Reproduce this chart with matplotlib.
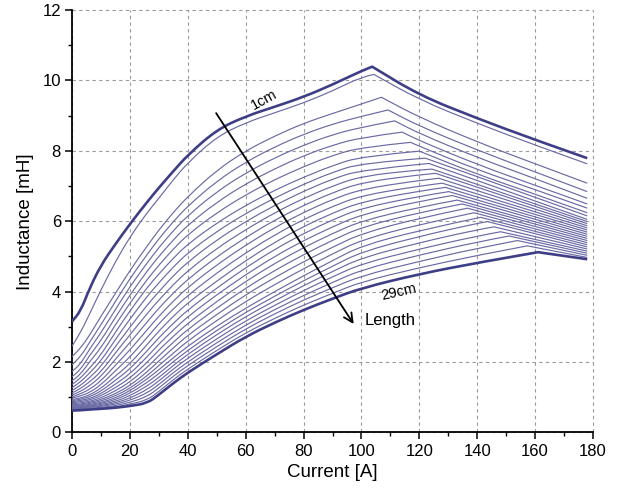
import matplotlib
matplotlib.use('Agg')
import matplotlib.pyplot as plt
from matplotlib.ticker import MultipleLocator
from matplotlib.path import Path
from matplotlib.patches import PathPatch

plt.rcParams['font.family'] = ['Liberation Sans', 'DejaVu Sans']

# Current grid (A) shared by the rising part of every curve
CURRENT_GRID = [0, 3, 6, 10, 15, 20, 26, 30, 35, 40, 50, 60, 70, 80, 90, 100]

# Inductance (mH) on CURRENT_GRID for air-gap lengths 1cm ... 29cm
L01 = [3.15, 3.45, 4.08, 4.75, 5.35, 5.92, 6.55, 6.95, 7.42, 7.88, 8.60, 8.98, 9.25, 9.53, 9.88, 10.27]
L02 = [2.45, 2.85, 3.35, 4.05, 4.85, 5.55, 6.25, 6.65, 7.18, 7.66, 8.40, 8.80, 9.08, 9.36, 9.70, 10.10]
L03 = [2.15, 2.40, 2.75, 3.30, 3.95, 4.60, 5.30, 5.75, 6.25, 6.70, 7.45, 8.00, 8.42, 8.78, 9.06, 9.33]
L04 = [1.92, 2.16, 2.55, 3.06, 3.72, 4.37, 5.06, 5.50, 5.99, 6.43, 7.14, 7.68, 8.11, 8.47, 8.76, 8.98]
L05 = [1.73, 1.95, 2.36, 2.83, 3.49, 4.14, 4.82, 5.25, 5.73, 6.16, 6.84, 7.37, 7.80, 8.16, 8.46, 8.67]
L06 = [1.58, 1.79, 2.18, 2.61, 3.27, 3.90, 4.59, 5.00, 5.47, 5.89, 6.54, 7.06, 7.49, 7.86, 8.16, 8.38]
L07 = [1.46, 1.66, 2.00, 2.40, 3.06, 3.67, 4.35, 4.75, 5.21, 5.62, 6.24, 6.75, 7.18, 7.55, 7.87, 8.10]
L08 = [1.36, 1.55, 1.82, 2.20, 2.85, 3.45, 4.12, 4.50, 4.95, 5.35, 5.95, 6.45, 6.88, 7.25, 7.58, 7.84]
L09 = [1.27, 1.44, 1.68, 2.03, 2.64, 3.22, 3.87, 4.25, 4.70, 5.10, 5.71, 6.22, 6.66, 7.05, 7.39, 7.65]
L10 = [1.19, 1.34, 1.55, 1.87, 2.44, 2.99, 3.62, 4.00, 4.45, 4.84, 5.47, 5.99, 6.45, 6.85, 7.20, 7.46]
L11 = [1.12, 1.25, 1.43, 1.72, 2.26, 2.77, 3.38, 3.76, 4.20, 4.59, 5.23, 5.76, 6.24, 6.65, 7.00, 7.28]
L12 = [1.06, 1.17, 1.32, 1.59, 2.08, 2.55, 3.14, 3.53, 3.96, 4.35, 4.99, 5.54, 6.03, 6.45, 6.81, 7.10]
L13 = [1.01, 1.10, 1.22, 1.46, 1.91, 2.34, 2.92, 3.30, 3.73, 4.12, 4.76, 5.32, 5.82, 6.25, 6.62, 6.91]
L14 = [0.97, 1.04, 1.13, 1.35, 1.75, 2.14, 2.70, 3.09, 3.51, 3.89, 4.53, 5.10, 5.61, 6.05, 6.42, 6.73]
L15 = [0.93, 0.98, 1.06, 1.25, 1.60, 1.95, 2.50, 2.88, 3.30, 3.68, 4.30, 4.88, 5.40, 5.85, 6.23, 6.55]
L16 = [0.90, 0.945, 1.01, 1.17, 1.48, 1.80, 2.32, 2.69, 3.10, 3.48, 4.10, 4.68, 5.20, 5.65, 6.04, 6.37]
L17 = [0.87, 0.91, 0.96, 1.10, 1.37, 1.66, 2.15, 2.51, 2.91, 3.29, 3.91, 4.48, 5.00, 5.45, 5.84, 6.19]
L18 = [0.84, 0.875, 0.92, 1.04, 1.27, 1.54, 1.99, 2.34, 2.73, 3.10, 3.72, 4.29, 4.80, 5.25, 5.65, 6.01]
L19 = [0.81, 0.84, 0.88, 0.98, 1.18, 1.43, 1.85, 2.18, 2.56, 2.93, 3.53, 4.10, 4.60, 5.05, 5.46, 5.83]
L20 = [0.78, 0.805, 0.85, 0.93, 1.10, 1.33, 1.72, 2.03, 2.40, 2.76, 3.35, 3.91, 4.40, 4.85, 5.26, 5.65]
L21 = [0.76, 0.78, 0.82, 0.89, 1.04, 1.25, 1.61, 1.90, 2.25, 2.60, 3.18, 3.72, 4.20, 4.65, 5.07, 5.47]
L22 = [0.74, 0.76, 0.79, 0.85, 0.98, 1.18, 1.52, 1.78, 2.12, 2.45, 3.02, 3.53, 4.00, 4.45, 4.88, 5.30]
L23 = [0.72, 0.735, 0.77, 0.82, 0.93, 1.11, 1.42, 1.67, 2.01, 2.33, 2.90, 3.41, 3.87, 4.31, 4.72, 5.13]
L24 = [0.70, 0.715, 0.75, 0.79, 0.88, 1.04, 1.32, 1.56, 1.90, 2.22, 2.78, 3.29, 3.74, 4.17, 4.57, 4.96]
L25 = [0.69, 0.70, 0.73, 0.76, 0.84, 0.97, 1.22, 1.46, 1.80, 2.11, 2.66, 3.17, 3.61, 4.03, 4.42, 4.79]
L26 = [0.67, 0.685, 0.71, 0.74, 0.80, 0.91, 1.12, 1.36, 1.70, 2.00, 2.55, 3.05, 3.49, 3.89, 4.26, 4.62]
L27 = [0.66, 0.675, 0.69, 0.71, 0.76, 0.85, 1.02, 1.26, 1.60, 1.90, 2.44, 2.94, 3.37, 3.76, 4.11, 4.45]
L28 = [0.64, 0.65, 0.67, 0.69, 0.73, 0.80, 0.92, 1.16, 1.50, 1.80, 2.33, 2.83, 3.24, 3.62, 3.95, 4.28]
L29 = [0.62, 0.63, 0.65, 0.67, 0.70, 0.75, 0.83, 1.07, 1.40, 1.70, 2.22, 2.72, 3.12, 3.48, 3.80, 4.10]

# (current, inductance) points beyond 100 A: peak and decline
T01 = [(103.7, 10.39), (120, 9.58), (140, 8.92), (160, 8.31), (178, 7.79)]
T02 = [(104.3, 10.17), (120, 9.45), (140, 8.78), (160, 8.16), (178, 7.63)]
T03 = [(106.9, 9.52), (120, 8.95), (140, 8.25), (160, 7.63), (178, 7.08)]
T04 = [(109.2, 9.16), (120, 8.70), (140, 8.02), (160, 7.40), (178, 6.84)]
T05 = [(111.5, 8.85), (120, 8.49), (140, 7.81), (160, 7.21), (178, 6.65)]
T06 = [(114.1, 8.53), (120, 8.29), (140, 7.61), (160, 7.02), (178, 6.49)]
T07 = [(117.0, 8.24), (120, 8.13), (140, 7.46), (160, 6.90), (178, 6.37)]
T08 = [(120.0, 7.99), (140, 7.33), (160, 6.77), (178, 6.24)]
T09 = [(122.1, 7.79), (178, 6.15)]
T10 = [(123.3, 7.64), (178, 6.05)]
T11 = [(120, 7.46), (124.4, 7.48), (178, 5.99)]
T12 = [(120, 7.32), (125.6, 7.36), (178, 5.93)]
T13 = [(120, 7.16), (126.7, 7.22), (178, 5.87)]
T14 = [(120, 7.00), (127.9, 7.08), (178, 5.81)]
T15 = [(120, 6.86), (129.0, 6.96), (178, 5.75)]
T16 = [(120, 6.71), (130.2, 6.84), (178, 5.69)]
T17 = [(120, 6.57), (131.4, 6.73), (178, 5.63)]
T18 = [(120, 6.40), (133.1, 6.60), (178, 5.57)]
T19 = [(120, 6.25), (134.8, 6.49), (178, 5.51)]
T20 = [(120, 6.09), (136.6, 6.37), (178, 5.45)]
T21 = [(120, 5.91), (138.9, 6.24), (178, 5.39)]
T22 = [(120, 5.74), (141.2, 6.11), (178, 5.33)]
T23 = [(120, 5.57), (140, 5.94), (143.5, 5.99), (178, 5.27)]
T24 = [(120, 5.39), (140, 5.76), (145.8, 5.84), (178, 5.21)]
T25 = [(120, 5.21), (140, 5.58), (148.1, 5.70), (178, 5.15)]
T26 = [(120, 5.04), (140, 5.41), (151.0, 5.58), (178, 5.09)]
T27 = [(120, 4.86), (140, 5.23), (153.9, 5.45), (178, 5.03)]
T28 = [(120, 4.68), (140, 5.03), (157.3, 5.30), (178, 4.97)]
T29 = [(120, 4.50), (140, 4.82), (161.0, 5.12), (178, 4.92)]

X_TICKS = [0, 20, 40, 60, 80, 100, 120, 140, 160, 180]
Y_TICKS = [0, 2, 4, 6, 8, 10, 12]
LABEL_FIRST = '1cm'
LABEL_LAST = '29cm'
ARROW_LABEL = 'Length'

RISE = [L01, L02, L03, L04, L05, L06, L07, L08, L09, L10, L11, L12, L13, L14, L15,
        L16, L17, L18, L19, L20, L21, L22, L23, L24, L25, L26, L27, L28, L29]
TAIL = [T01, T02, T03, T04, T05, T06, T07, T08, T09, T10, T11, T12, T13, T14, T15,
        T16, T17, T18, T19, T20, T21, T22, T23, T24, T25, T26, T27, T28, T29]


def smooth_segment(pts, first):
    """Quadratic-Bezier rendering through the read points (corners rounded)."""
    verts, codes = [], []
    if first:
        verts.append(pts[0]); codes.append(Path.MOVETO)
    if len(pts) == 2:
        verts.append(pts[1]); codes.append(Path.LINETO)
        return verts, codes
    verts.append(((pts[0][0] + pts[1][0]) / 2, (pts[0][1] + pts[1][1]) / 2))
    codes.append(Path.LINETO)
    for i in range(1, len(pts) - 1):
        if i == len(pts) - 2:
            end = pts[i + 1]
        else:
            end = ((pts[i][0] + pts[i + 1][0]) / 2, (pts[i][1] + pts[i + 1][1]) / 2)
        verts += [pts[i], end]
        codes += [Path.CURVE3, Path.CURVE3]
    return verts, codes


fig = plt.figure(figsize=(6.25, 4.92), dpi=100)
ax = fig.add_axes([0.1152, 0.1211, 0.8336, 0.8586])

n = len(RISE)
for i, (rise, tail) in enumerate(zip(RISE, TAIL)):
    pts = list(zip(CURRENT_GRID, rise)) + list(tail)
    ipk = max(range(len(pts)), key=lambda j: pts[j][1])
    v1, c1 = smooth_segment(pts[:ipk + 1], True)
    v2, c2 = smooth_segment(pts[ipk:], False)
    thick = i in (0, n - 1)
    patch = PathPatch(Path(v1 + v2, c1 + c2), fill=False,
                      edgecolor='#3e3e86' if thick else '#6a6aa4',
                      lw=1.9 if thick else 0.85, zorder=4 if thick else 3,
                      joinstyle='round', capstyle='butt')
    ax.add_patch(patch)

ax.set_xlim(0, 180)
ax.set_ylim(0, 12)
ax.set_xticks(X_TICKS)
ax.set_yticks(Y_TICKS)
ax.xaxis.set_minor_locator(MultipleLocator(10))
ax.yaxis.set_minor_locator(MultipleLocator(1))
ax.tick_params(which='major', direction='out', length=5, width=1.1,
               labelsize=12, pad=3)
ax.tick_params(which='minor', direction='out', length=3, width=1.0)
for s in ('top', 'right'):
    ax.spines[s].set_visible(False)
for s in ('left', 'bottom'):
    ax.spines[s].set_linewidth(1.3)

ax.grid(True, which='major', color='#9a9a9a', lw=0.8, linestyle=(0, (3, 3)))
for gl in ax.get_xgridlines() + ax.get_ygridlines():
    gl.set_clip_on(False)
ax.set_axisbelow(True)

ax.set_xlabel('Current [A]', fontsize=13.5, labelpad=4)
ax.set_ylabel('Inductance [mH]', fontsize=13.5, labelpad=6)

ax.annotate('', xy=(97.3, 3.08), xytext=(49.8, 9.07),
            arrowprops=dict(arrowstyle='->', color='black', lw=1.3,
                            mutation_scale=16, shrinkA=0, shrinkB=0),
            zorder=6)
ax.text(101, 3.19, ARROW_LABEL, fontsize=12, ha='left', va='center', zorder=6)
ax.text(66.2, 9.44, LABEL_FIRST, fontsize=10.5, ha='center', va='center',
        rotation=29, zorder=6)
ax.text(112.8, 3.98, LABEL_LAST, fontsize=10.5, ha='center', va='center',
        rotation=13, zorder=6)

fig.savefig('out.png', dpi=100)
